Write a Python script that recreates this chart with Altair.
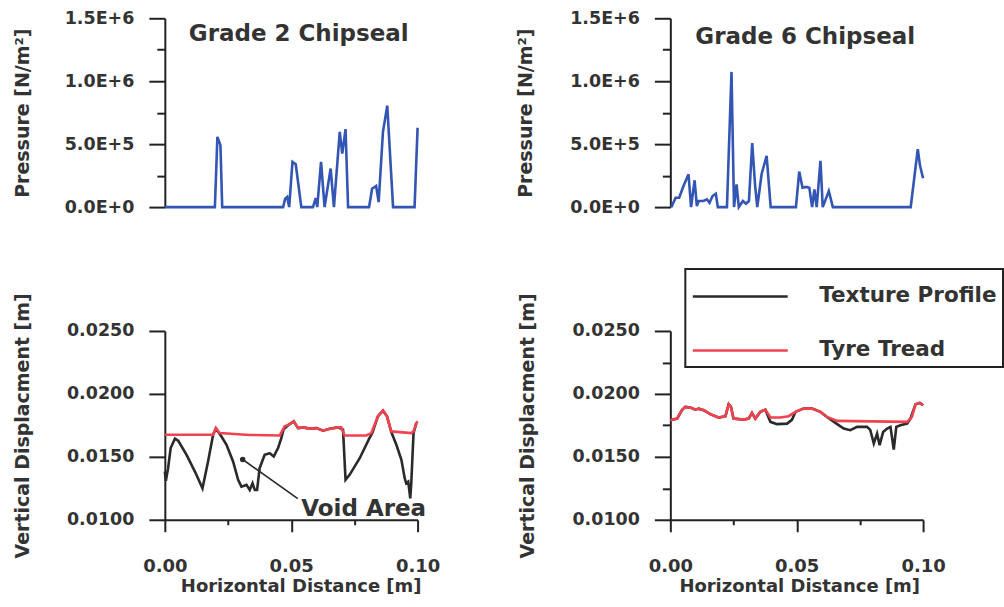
import json
import altair as alt
import pandas as pd

FONT = "DejaVu Sans"
TEXT = "#333333"
AXIS = "#222222"
BLUE = "#3355b3"
BLACK = "#2a2a2a"
RED = "#f0424f"

W, H = 253, 189

# ---------------- data ----------------
# Grade 2 chipseal pressure
G2_P_X = [0.000, 0.0198, 0.0208, 0.0220, 0.0227, 0.0468, 0.0476, 0.0484, 0.0492, 0.0505, 0.0518,
          0.0540, 0.0586, 0.0597, 0.0603, 0.0618, 0.0632, 0.0656, 0.0669, 0.0692, 0.0702, 0.0715,
          0.0725, 0.0808, 0.0820, 0.0836, 0.0846, 0.0863, 0.0880, 0.0903, 0.0988, 0.1000]
G2_P = [0, 0, 558000, 492000, 0, 0, 66000, 80000, 0, 359000, 340000,
        0, 0, 72000, 0, 359000, 0, 306000, 0, 598000, 425000, 620000,
        0, 0, 146000, 168000, 40000, 598000, 806000, 0, 0, 630000]

# Grade 6 chipseal pressure
G6_P_X = [0.0004, 0.0021, 0.0035, 0.0052, 0.0072, 0.0082, 0.0096, 0.0105, 0.0112, 0.0131, 0.0145,
          0.0155, 0.0167, 0.0180, 0.0188, 0.0224, 0.0242, 0.0252, 0.0262, 0.0271, 0.0287, 0.0299,
          0.0311, 0.0324, 0.0335, 0.0344, 0.0361, 0.0381, 0.0397, 0.0497, 0.0510, 0.0523, 0.0537,
          0.0550, 0.0561, 0.0570, 0.0579, 0.0594, 0.0603, 0.0627, 0.0643, 0.0951, 0.0979, 0.0988,
          0.1000]
G6_P = [0, 74000, 74000, 168000, 261000, 0, 213000, 8000, 48000, 48000, 61000,
        34000, 88000, 106000, 0, 0, 1074000, 0, 181000, 0, 48000, 26000,
        48000, 509000, 181000, 0, 261000, 408000, 0, 0, 282000, 154000, 160000,
        154000, 0, 141000, 0, 368000, 0, 128000, 0, 0, 461000, 328000,
        229000]

# Grade 2 displacement
G2_TYRE_X = [0.0, 0.0191, 0.0202, 0.0217, 0.0336, 0.0455, 0.0474, 0.0491, 0.0510, 0.0527, 0.0547,
             0.0573, 0.0600, 0.0626, 0.0652, 0.0685, 0.0698, 0.0711, 0.0797, 0.0817, 0.0843, 0.0863,
             0.0879, 0.0896, 0.0975, 0.0984, 0.0995, 0.1000]
G2_TYRE = [0.01676, 0.01676, 0.01728, 0.01689, 0.01674, 0.01670, 0.01742, 0.01756, 0.01782, 0.01728, 0.01734,
           0.01724, 0.01728, 0.01708, 0.01724, 0.01734, 0.01734, 0.01670, 0.01670, 0.01689, 0.01822, 0.01867,
           0.01822, 0.01702, 0.01689, 0.01702, 0.01768, 0.01782]
G2_TEX_X = [0.0, 0.0004, 0.0013, 0.0023, 0.0040, 0.0053, 0.0086, 0.0119, 0.0149, 0.0171, 0.0191,
            0.0202, 0.0224, 0.0244, 0.0270, 0.0290, 0.0303, 0.0323, 0.0336, 0.0347, 0.0356, 0.0365,
            0.0375, 0.0395, 0.0415, 0.0431, 0.0448, 0.0461, 0.0470, 0.0491, 0.0510, 0.0527, 0.0547,
            0.0573, 0.0600, 0.0626, 0.0652, 0.0685, 0.0705, 0.0715, 0.0731, 0.0771, 0.0810, 0.0821,
            0.0843, 0.0863, 0.0879, 0.0896, 0.0916, 0.0936, 0.0949, 0.0955, 0.0963, 0.0971, 0.0975,
            0.0984, 0.0995]
G2_TEX = [0.01383, 0.01309, 0.01410, 0.01570, 0.01644, 0.01628, 0.01516, 0.01383, 0.01250, 0.01463, 0.01676,
          0.01726, 0.01662, 0.01596, 0.01463, 0.01317, 0.01263, 0.01277, 0.01237, 0.01290, 0.01237, 0.01237,
          0.01410, 0.01516, 0.01529, 0.01503, 0.01570, 0.01650, 0.01718, 0.01756, 0.01782, 0.01728, 0.01734,
          0.01724, 0.01728, 0.01708, 0.01724, 0.01734, 0.01716, 0.01317, 0.01357, 0.01489, 0.01650, 0.01689,
          0.01822, 0.01867, 0.01822, 0.01697, 0.01596, 0.01476, 0.01330, 0.01290, 0.01303, 0.01170, 0.01290,
          0.01689, 0.01768]

# Grade 6 displacement
G6_TYRE_X = [0.0, 0.0027, 0.0046, 0.0059, 0.0079, 0.0099, 0.0112, 0.0132, 0.0158, 0.0191, 0.0218,
             0.0231, 0.0240, 0.0250, 0.0290, 0.0310, 0.0323, 0.0336, 0.0356, 0.0376, 0.0396, 0.0435,
             0.0468, 0.0495, 0.0527, 0.0561, 0.0594, 0.0620, 0.0660, 0.0937, 0.0956, 0.0970, 0.0987,
             0.1000]
G6_TYRE = [0.01791, 0.01804, 0.01871, 0.01897, 0.01891, 0.01875, 0.01883, 0.01871, 0.01839, 0.01812, 0.01823,
           0.01918, 0.01897, 0.01804, 0.01796, 0.01804, 0.01849, 0.01804, 0.01857, 0.01875, 0.01812, 0.01812,
           0.01823, 0.01857, 0.01883, 0.01883, 0.01857, 0.01817, 0.01786, 0.01778, 0.01817, 0.01918, 0.01929,
           0.01910]
G6_TEX_X = [0.0, 0.0027, 0.0046, 0.0059, 0.0079, 0.0099, 0.0112, 0.0132, 0.0158, 0.0191, 0.0218,
            0.0231, 0.0240, 0.0250, 0.0290, 0.0310, 0.0323, 0.0336, 0.0356, 0.0376, 0.0396, 0.0422,
            0.0462, 0.0481, 0.0495, 0.0527, 0.0561, 0.0594, 0.0620, 0.0660, 0.0686, 0.0712, 0.0739,
            0.0778, 0.0791, 0.0805, 0.0818, 0.0828, 0.0842, 0.0858, 0.0871, 0.0884, 0.0894, 0.0910,
            0.0937, 0.0950, 0.0970, 0.0987, 0.1000]
G6_TEX = [0.01791, 0.01804, 0.01871, 0.01897, 0.01891, 0.01875, 0.01883, 0.01871, 0.01839, 0.01812, 0.01823,
          0.01918, 0.01897, 0.01804, 0.01796, 0.01804, 0.01849, 0.01804, 0.01857, 0.01875, 0.01778, 0.01760,
          0.01764, 0.01794, 0.01857, 0.01883, 0.01883, 0.01857, 0.01817, 0.01760, 0.01725, 0.01712, 0.01738,
          0.01738, 0.01714, 0.01606, 0.01685, 0.01593, 0.01698, 0.01725, 0.01738, 0.01558, 0.01738, 0.01751,
          0.01764, 0.01804, 0.01918, 0.01929, 0.01910]

SERIES = ["Texture Profile", "Tyre Tread"]
PANEL_TITLES = ["Grade 2 Chipseal", "Grade 6 Chipseal"]

# annotation (data coordinates)
VOID_LABEL = "Void Area"
VOID_DOT_X, VOID_DOT_Y = 0.0308, 0.01479
VOID_END_X, VOID_END_Y = 0.0526, 0.01168
VOID_TXT_X, VOID_TXT_Y = 0.0540, 0.01088

# axes ticks / labels
X_DOMAIN = [0.0, 0.1]
X_TICKS = [0.0, 0.025, 0.05, 0.075, 0.1]
X_MAJOR = [0.0, 0.05, 0.1]
X_LABELS = ["0.00", "0.05", "0.10"]

P_DOMAIN = [0, 1500000]
P_TICKS = [0, 250000, 500000, 750000, 1000000, 1250000, 1500000]
P_MAJOR = [0, 500000, 1000000, 1500000]
P_LABELS = ["0.0E+0", "5.0E+5", "1.0E+6", "1.5E+6"]

D_DOMAIN = [0.01, 0.025]
D_TICKS = [0.01, 0.0125, 0.015, 0.0175, 0.02, 0.0225, 0.025]
D_MAJOR = [0.01, 0.015, 0.02, 0.025]
D_LABELS = ["0.0100", "0.0150", "0.0200", "0.0250"]


def label_expr(majors, labels):
    parts = [f"datum.value == {json.dumps(v)} ? '{l}'" for v, l in zip(majors, labels)]
    return " : ".join(parts) + " : ''"


def minor_test(majors):
    return f"indexof({json.dumps(majors)}, datum.value) < 0"


def y_axis(title, ticks, majors, labels, title_x):
    return alt.Axis(
        title=title, values=ticks, labelExpr=label_expr(majors, labels),
        tickSize={"condition": {"test": minor_test(majors), "value": 8}, "value": 16},
        labelPadding=15, labelFontSize=17.5, titleFontSize=19, titleX=title_x,
        labelFlush=False, labelOverlap=False,
    )


def x_axis(title_x):
    return alt.Axis(
        title="Horizontal Distance [m]", values=X_TICKS, labelExpr=label_expr(X_MAJOR, X_LABELS),
        tickSize={"condition": {"test": minor_test(X_MAJOR), "value": 5}, "value": 12},
        labelPadding=26, labelFontSize=18, titleFontSize=18, titlePadding=2, titleX=title_x,
        labelFlush=False, labelOverlap=False,
    )


def pressure_panel(xs, ps, title, tx, ty, y_title_x):
    df = pd.DataFrame({"x": xs, "p": ps})
    line = alt.Chart(df).mark_line(color=BLUE, strokeWidth=2.6).encode(
        x=alt.X("x:Q", scale=alt.Scale(domain=X_DOMAIN, nice=False, zero=False), axis=None),
        y=alt.Y("p:Q", scale=alt.Scale(domain=P_DOMAIN, nice=False),
                axis=y_axis("Pressure [N/m²]", P_TICKS, P_MAJOR, P_LABELS, y_title_x)),
    )
    txt = alt.Chart(pd.DataFrame({"t": [title]})).mark_text(
        font=FONT, fontWeight="bold", fontSize=23, color=TEXT
    ).encode(text="t:N", x=alt.value(tx), y=alt.value(ty))
    return alt.layer(line, txt).properties(width=W, height=H)


def disp_panel(tex_x, tex, tyre_x, tyre, y_title_x, x_title_x, legend):
    df = pd.concat([
        pd.DataFrame({"x": tex_x, "d": tex, "s": SERIES[0]}),
        pd.DataFrame({"x": tyre_x, "d": tyre, "s": SERIES[1]}),
    ])
    line = alt.Chart(df).mark_line(strokeWidth=2.6).encode(
        x=alt.X("x:Q", scale=alt.Scale(domain=X_DOMAIN, nice=False, zero=False), axis=x_axis(x_title_x)),
        y=alt.Y("d:Q", scale=alt.Scale(domain=D_DOMAIN, nice=False, zero=False),
                axis=y_axis("Vertical Displacment [m]", D_TICKS, D_MAJOR, D_LABELS, y_title_x)),
        color=alt.Color("s:N", scale=alt.Scale(domain=SERIES, range=[BLACK, RED]), legend=legend),
    )
    return line


bl_line = disp_panel(G2_TEX_X, G2_TEX, G2_TYRE_X, G2_TYRE, -132, 136, None)
ann = pd.DataFrame({"x": [VOID_DOT_X], "y": [VOID_DOT_Y], "x2": [VOID_END_X], "y2": [VOID_END_Y],
                    "tx": [VOID_TXT_X], "ty": [VOID_TXT_Y], "t": [VOID_LABEL]})
bl_rule = alt.Chart(ann).mark_rule(color=BLACK, strokeWidth=1.6).encode(x="x:Q", y="y:Q", x2="x2:Q", y2="y2:Q")
bl_dot = alt.Chart(ann).mark_circle(color=BLACK, size=30, opacity=1).encode(x="x:Q", y="y:Q")
bl_txt = alt.Chart(ann).mark_text(font=FONT, fontWeight="bold", fontSize=23, color=TEXT,
                                  align="left", baseline="middle").encode(x="tx:Q", y="ty:Q", text="t:N")
bl = alt.layer(bl_line, bl_rule, bl_dot, bl_txt).properties(width=W, height=H)

legend = alt.Legend(
    title=None, orient="none", legendX=15, legendY=-62, direction="vertical",
    labelFont=FONT, labelFontWeight="bold", labelFontSize=21.5, labelColor=TEXT, labelLimit=400,
    symbolType="M-1,0H3.75", symbolSize=1600, symbolStrokeWidth=2.5,
    labelOffset=85, strokeColor=AXIS, padding=6, rowPadding=22, fillColor="white",
)
br = disp_panel(G6_TEX_X, G6_TEX, G6_TYRE_X, G6_TYRE, -133, 129, legend).properties(width=W, height=H)

tl = pressure_panel(G2_P_X, G2_P, PANEL_TITLES[0], 134, 16, -132)
tr = pressure_panel(G6_P_X, G6_P, PANEL_TITLES[1], 135, 19, -135)

chart = alt.concat(
    tl, tr, bl, br, columns=2, spacing={"row": 124, "column": 253}, bounds="flush"
).resolve_scale(color="independent").properties(
    padding={"left": 14, "top": 9, "right": 0, "bottom": 0}
).configure_view(stroke=None).configure_axis(
    grid=False, domainColor=AXIS, domainWidth=2, tickColor=AXIS, tickWidth=2,
    labelFont=FONT, labelFontWeight="bold", labelColor=TEXT,
    titleFont=FONT, titleFontWeight="bold", titleColor=TEXT,
).configure_legend(strokeWidth=2)

chart.save("out.html", embed_options={"renderer": "svg", "actions": False})
